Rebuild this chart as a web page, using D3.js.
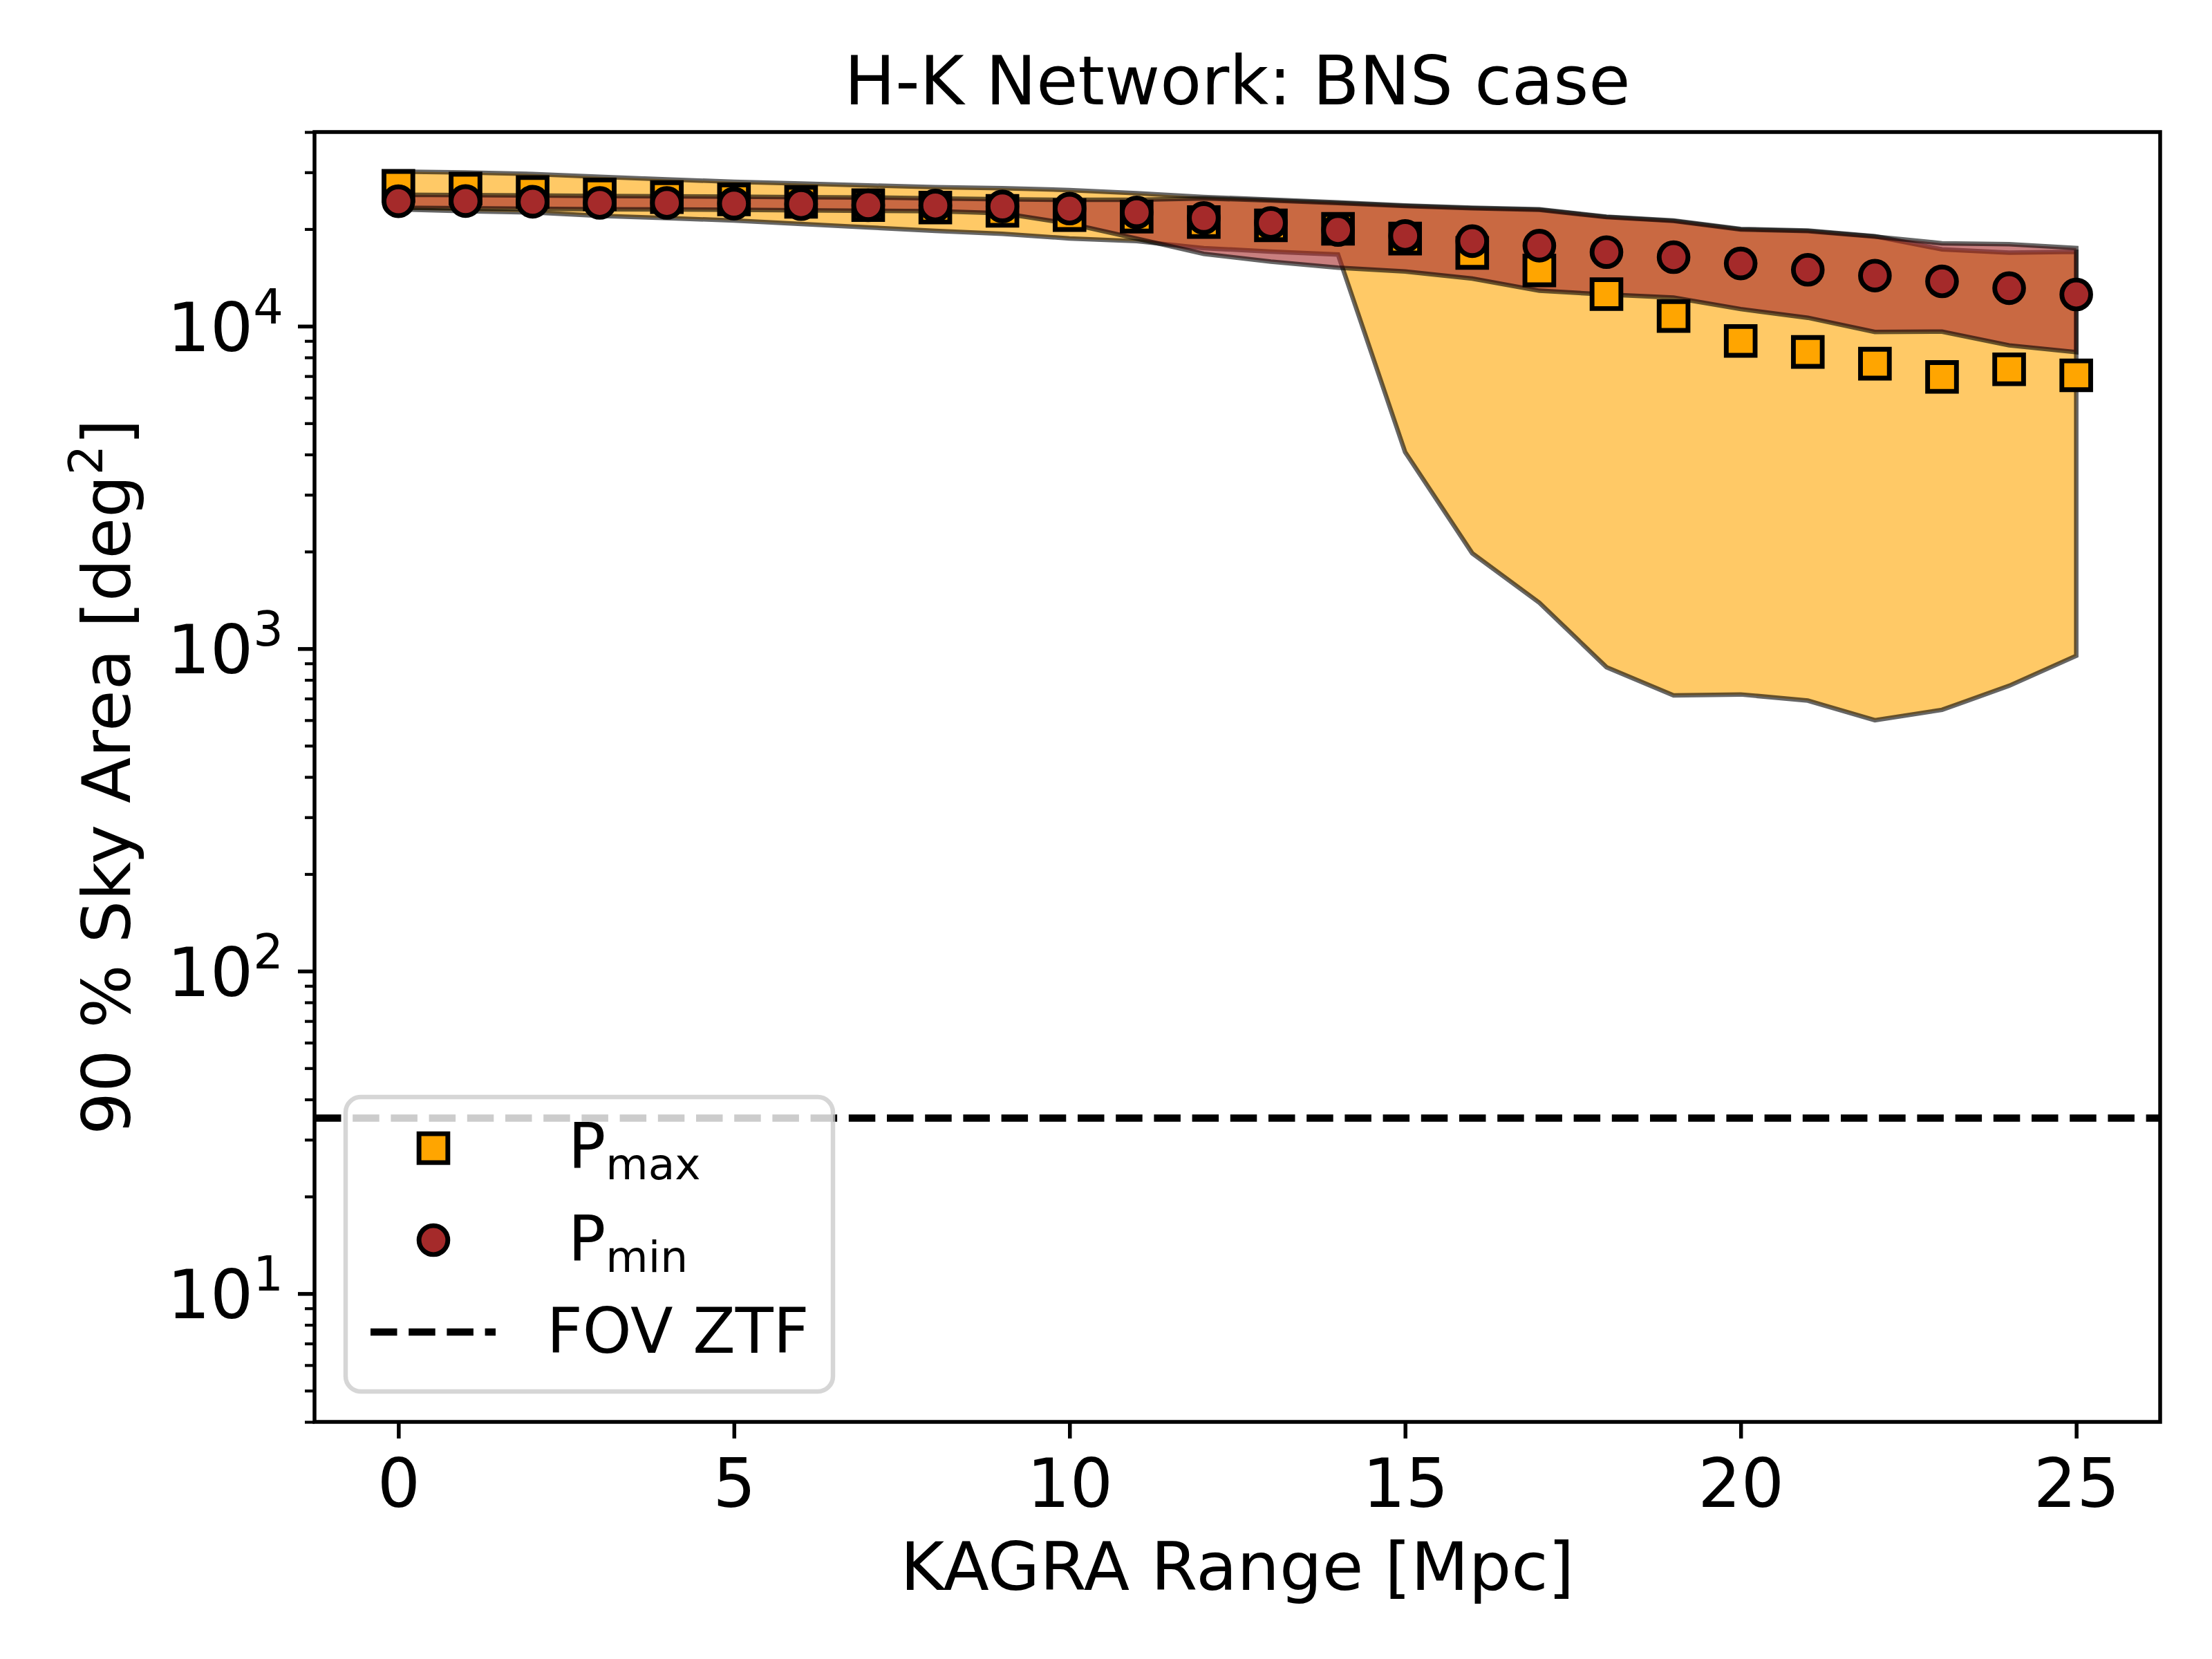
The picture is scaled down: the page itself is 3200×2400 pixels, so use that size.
<!DOCTYPE html>
<html>
<head>
<meta charset="utf-8">
<script src="https://cdn.jsdelivr.net/npm/d3@7"></script>
<style>
  html, body { margin: 0; padding: 0; background: #ffffff; }
  svg { display: block; }
  text { font-family: "DejaVu Sans", sans-serif; fill: #000; }
</style>
</head>
<body>
<script>
// ---------------- data ----------------
const kagraRange = [0, 1, 2, 3, 4, 5, 6, 7, 8, 9, 10, 11, 12, 13, 14, 15, 16, 17, 18, 19, 20, 21, 22, 23, 24, 25];

const pMax = [27230, 26700, 26070, 25630, 25130, 24740, 24300, 23730, 23320, 22780, 22110, 21860, 21030, 20550, 20040, 18690, 16870, 14890, 12570, 10750, 9000, 8320, 7650, 6960, 7350, 7040];
const pMin = [24400, 24430, 24310, 24110, 24110, 23990, 23910, 23710, 23670, 23520, 23150, 22540, 21650, 20900, 19870, 19050, 18350, 17770, 16970, 16370, 15650, 14960, 14350, 13770, 13120, 12540];

const pMaxUpper = [30150, 29950, 29650, 29070, 28510, 28050, 27680, 27320, 27000, 26790, 26430, 25830, 25160, 24700, 24200, 23670, 23290, 23030, 21860, 21270, 20030, 19800, 19000, 17300, 16900, 17000];
const pMaxLower = [23020, 22720, 22530, 21990, 21630, 21270, 20750, 20250, 19750, 19340, 18710, 18350, 17460, 17040, 16680, 4070, 1976, 1388, 876, 716, 721, 690, 600, 646, 767, 950];

const pMinUpper = [25570, 25500, 25420, 25350, 25280, 25200, 25130, 25070, 24900, 24750, 24650, 24650, 24900, 24550, 24080, 23600, 23220, 22950, 21800, 21200, 19950, 19720, 18950, 18080, 17950, 17480];
const pMinLower = [23290, 23200, 23120, 23050, 23020, 22950, 22870, 22790, 22720, 22400, 20800, 18700, 16760, 15850, 15180, 14780, 14050, 12880, 12540, 12260, 11300, 10620, 9600, 9620, 8720, 8310];

const fovZTF = [35];

const xTicks = [0, 5, 10, 15, 20, 25];
const yMajorTicks = [10, 100, 1000, 10000];
const yMajorExp = ["1", "2", "3", "4"];
const yMinorTicks = [4, 5, 6, 7, 8, 9, 20, 30, 40, 50, 60, 70, 80, 90, 200, 300, 400, 500, 600, 700, 800, 900,
                     2000, 3000, 4000, 5000, 6000, 7000, 8000, 9000, 20000, 30000, 40000];

const titleText = "H-K Network: BNS case";
const xLabelText = "KAGRA Range [Mpc]";

// ---------------- layout ----------------
const W = 3200, H = 2400;
const L = 455, R = 3125, T = 191, B = 2057;
const FS = 98;        // main font size
const LFS = 90;       // legend font size

const svg = d3.select("body").append("svg")
  .attr("width", W).attr("height", H)
  .attr("viewBox", `0 0 ${W} ${H}`);
svg.append("rect").attr("width", W).attr("height", H).attr("fill", "#ffffff");

const x = d3.scaleLinear().domain([-1.25, 26.25]).range([L, R]);
const y = d3.scaleLog().domain([4, 40000]).range([B, T]);

const defs = svg.append("defs");
defs.append("clipPath").attr("id", "plotclip")
  .append("rect").attr("x", L).attr("y", T).attr("width", R - L).attr("height", B - T);

const plot = svg.append("g").attr("clip-path", "url(#plotclip)");

// ---------------- bands ----------------
function band(upper, lower) {
  return kagraRange.map((k, i) => ({ k: k, hi: upper[i], lo: lower[i] }));
}
const area = d3.area()
  .x(d => x(d.k))
  .y0(d => y(d.lo))
  .y1(d => y(d.hi))
  .curve(d3.curveLinear);

plot.append("path")
  .datum(band(pMaxUpper, pMaxLower))
  .attr("d", area)
  .attr("fill", "#FFA500").attr("fill-opacity", 0.6)
  .attr("stroke", "#000").attr("stroke-opacity", 0.6)
  .attr("stroke-width", 6.5).attr("stroke-linejoin", "miter");

plot.append("path")
  .datum(band(pMinUpper, pMinLower))
  .attr("d", area)
  .attr("fill", "#A52A2A").attr("fill-opacity", 0.6)
  .attr("stroke", "#000").attr("stroke-opacity", 0.6)
  .attr("stroke-width", 6.5).attr("stroke-linejoin", "miter");

// ---------------- FOV ZTF line ----------------
plot.selectAll("line.fov").data(fovZTF).enter().append("line")
  .attr("class", "fov")
  .attr("x1", L).attr("x2", R)
  .attr("y1", d => y(d)).attr("y2", d => y(d))
  .attr("stroke", "#000").attr("stroke-width", 10.4)
  .attr("stroke-dasharray", "38.5,16.7");

// ---------------- markers ----------------
const sqSide = 41.7;
const circR = 20.85;
const squareSym = d3.symbol().type(d3.symbolSquare).size(sqSide * sqSide);
const circleSym = d3.symbol().type(d3.symbolCircle).size(Math.PI * circR * circR);

plot.selectAll("path.pmax").data(kagraRange.map((k, i) => ({ k: k, v: pMax[i] }))).enter()
  .append("path").attr("class", "pmax")
  .attr("d", squareSym)
  .attr("transform", d => `translate(${x(d.k)},${y(d.v)})`)
  .attr("fill", "#FFA500").attr("stroke", "#000").attr("stroke-width", 6.9);

plot.selectAll("path.pmin").data(kagraRange.map((k, i) => ({ k: k, v: pMin[i] }))).enter()
  .append("path").attr("class", "pmin")
  .attr("d", circleSym)
  .attr("transform", d => `translate(${x(d.k)},${y(d.v)})`)
  .attr("fill", "#A52A2A").attr("stroke", "#000").attr("stroke-width", 6.9);

// ---------------- axes ----------------
const xAxis = d3.axisBottom(x).tickValues(xTicks).tickSize(24).tickPadding(29).tickFormat(d3.format("d"));
const gx = svg.append("g").attr("transform", `translate(0,${B})`).call(xAxis);
gx.select(".domain").remove();
gx.selectAll(".tick line").attr("stroke", "#000").attr("stroke-width", 5.5);
gx.selectAll(".tick text").attr("font-size", FS).attr("font-family", "DejaVu Sans").attr("fill", "#000");

const yAxisMinor = d3.axisLeft(y).tickValues(yMinorTicks).tickSize(14).tickFormat("");
const gyMinor = svg.append("g").attr("transform", `translate(${L},0)`).call(yAxisMinor);
gyMinor.select(".domain").remove();
gyMinor.selectAll(".tick line").attr("stroke", "#000").attr("stroke-width", 4.2);

const yAxis = d3.axisLeft(y).tickValues(yMajorTicks).tickSize(24).tickPadding(45).tickFormat(() => "");
const gy = svg.append("g").attr("transform", `translate(${L},0)`).call(yAxis);
gy.select(".domain").remove();
gy.selectAll(".tick line").attr("stroke", "#000").attr("stroke-width", 5.5);
gy.selectAll(".tick text").each(function (d) {
  const t = d3.select(this);
  t.text(null)
    .attr("font-size", FS).attr("font-family", "DejaVu Sans").attr("fill", "#000")
    .attr("text-anchor", "end").attr("x", -45).attr("dy", "0.36em");
  t.append("tspan").text("10");
  t.append("tspan").attr("font-size", FS * 0.7).attr("dy", -40).text(yMajorExp[yMajorTicks.indexOf(d)]);
});

// frame
svg.append("rect")
  .attr("x", L).attr("y", T).attr("width", R - L).attr("height", B - T)
  .attr("fill", "none").attr("stroke", "#000").attr("stroke-width", 5.5);

// ---------------- labels ----------------
svg.append("text")
  .attr("x", (L + R) / 2).attr("y", 151)
  .attr("text-anchor", "middle").attr("font-size", FS)
  .text(titleText);

svg.append("text")
  .attr("x", (L + R) / 2).attr("y", 2300)
  .attr("text-anchor", "middle").attr("font-size", 97)
  .text(xLabelText);

const yl = svg.append("text")
  .attr("transform", `translate(188,${(T + B) / 2}) rotate(-90)`)
  .attr("text-anchor", "middle").attr("font-size", 97);
yl.append("tspan").text("90 % Sky Area [deg");
yl.append("tspan").attr("font-size", 97 * 0.7).attr("dy", -40).text("2");
yl.append("tspan").attr("dy", 40).text("]");

// ---------------- legend ----------------
const lg = svg.append("g");
lg.append("rect")
  .attr("x", 500).attr("y", 1587).attr("width", 705).attr("height", 426)
  .attr("rx", 22).attr("ry", 22)
  .attr("fill", "#ffffff").attr("fill-opacity", 0.8)
  .attr("stroke", "#cccccc").attr("stroke-opacity", 0.8).attr("stroke-width", 6.5);

lg.append("path").attr("d", squareSym)
  .attr("transform", "translate(627,1661)")
  .attr("fill", "#FFA500").attr("stroke", "#000").attr("stroke-width", 6.9);
lg.append("path").attr("d", circleSym)
  .attr("transform", "translate(627,1794)")
  .attr("fill", "#A52A2A").attr("stroke", "#000").attr("stroke-width", 6.9);
lg.append("line")
  .attr("x1", 536).attr("x2", 717).attr("y1", 1927).attr("y2", 1927)
  .attr("stroke", "#000").attr("stroke-width", 10.4)
  .attr("stroke-dasharray", "38.5,16.7");

const t1 = lg.append("text").attr("x", 822).attr("y", 1690).attr("font-size", LFS);
t1.append("tspan").text("P");
t1.append("tspan").attr("font-size", LFS * 0.7).attr("dy", 16).text("max");

const t2 = lg.append("text").attr("x", 822).attr("y", 1824).attr("font-size", LFS);
t2.append("tspan").text("P");
t2.append("tspan").attr("font-size", LFS * 0.7).attr("dy", 16).text("min");

lg.append("text").attr("x", 791).attr("y", 1957).attr("font-size", LFS).text("FOV ZTF");
</script>
</body>
</html>
